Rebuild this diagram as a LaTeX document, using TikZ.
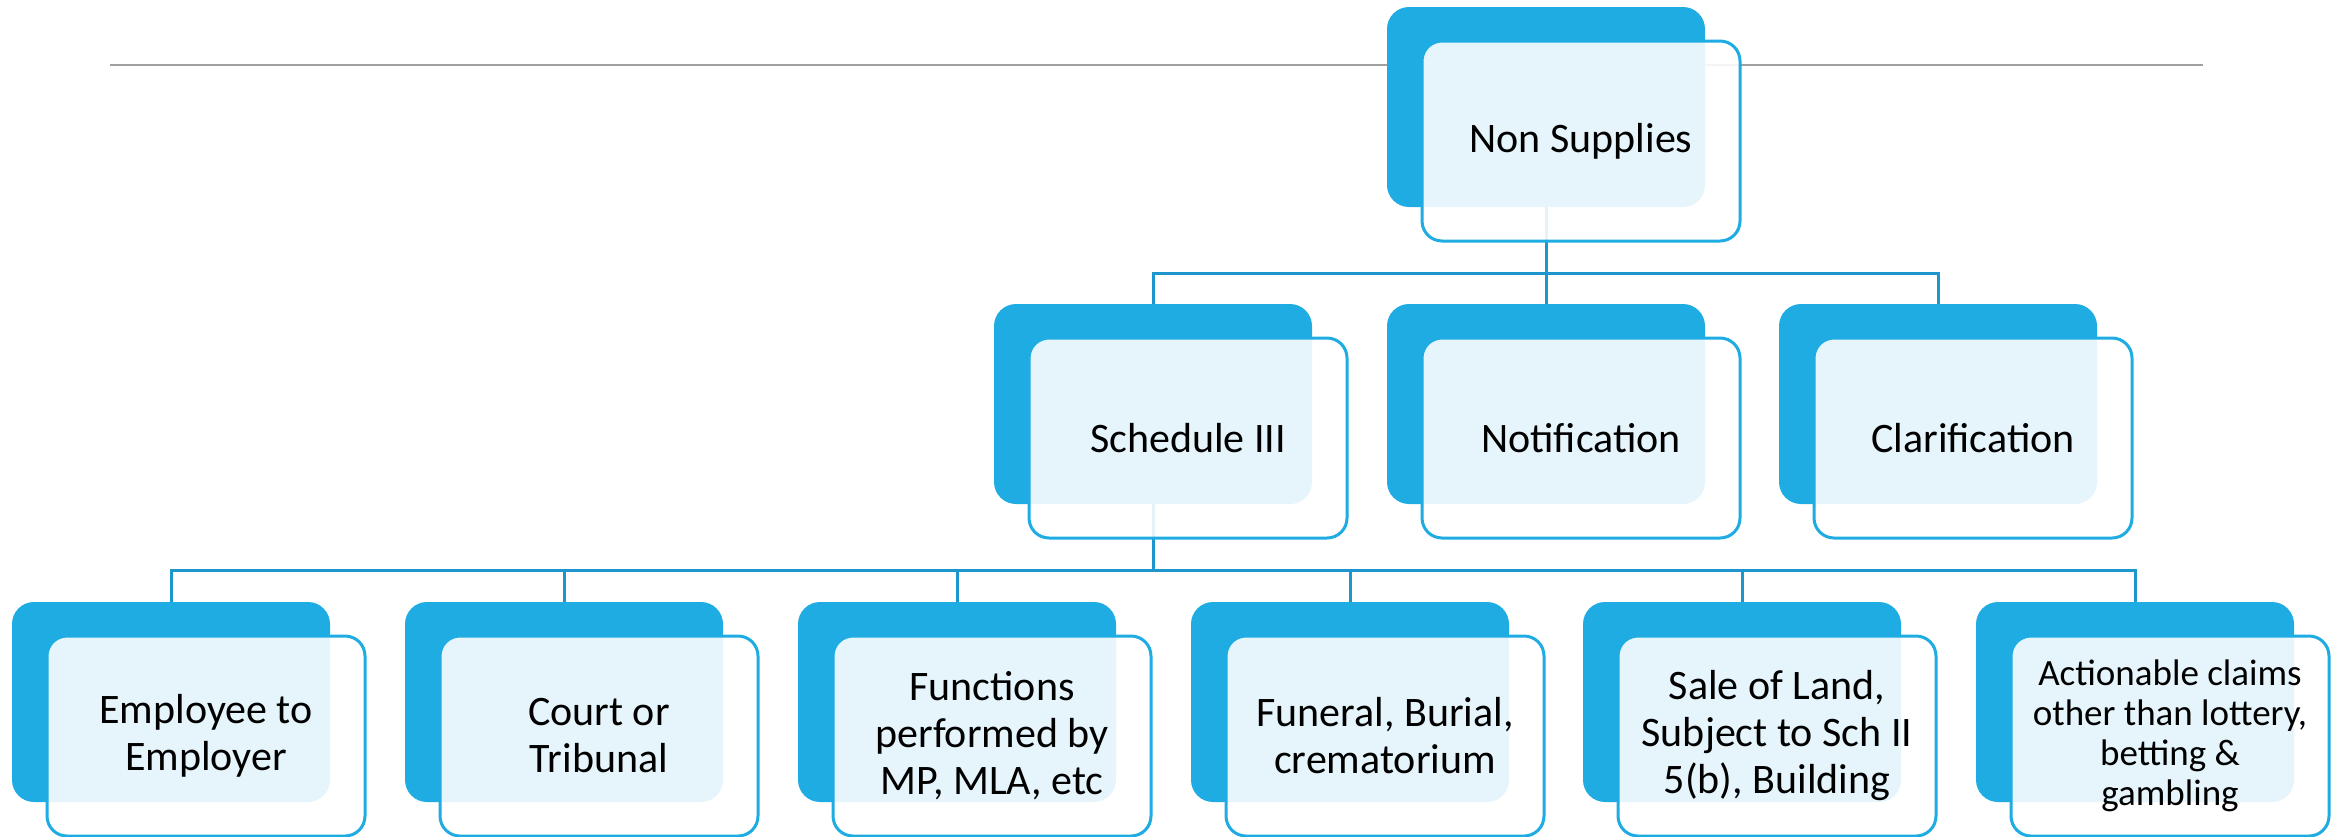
\documentclass[tikz,border=0pt]{standalone}
\usepackage{fontspec}
\setmainfont{Carlito}
\usetikzlibrary{positioning}
\definecolor{boxblue}{RGB}{30,172,226}
\definecolor{linkblue}{RGB}{29,150,206}
\definecolor{rulegray}{RGB}{160,160,160}

\begin{document}
\begin{tikzpicture}[x=1pt, y=-1pt,
		back/.style={fill=boxblue, rounded corners=22pt, minimum width=318pt, minimum height=200pt, inner sep=0pt},
		front/.style={draw=boxblue, line width=3pt, fill=white, fill opacity=0.885, text opacity=1, rounded corners=20pt,
			minimum width=318pt, minimum height=200pt, inner sep=0pt, align=center, font=\fontsize{42}{47}\selectfont},
		link/.style={draw=linkblue, line width=3pt}]
	\useasboundingbox (0,0) rectangle (2341,836);
	% rule behind the top box
	\coordinate (ruleL) at (110,65);
	\coordinate (ruleR) at (2203,65);
	\draw[rulegray, line width=2pt] (ruleL) -- (ruleR);
	% back boxes
	\node[back] (ns-bk) at (1546,107) {};
	\foreach \n/\x in {sch/1153, noti/1546, clar/1938}
		\node[back] (\n-bk) at (\x,404) {};
	\foreach \n/\x in {emp/171, court/564, func/957, fun/1350, land/1742, act/2135}
		\node[back] (\n-bk) at (\x,702) {};
	% links
	\foreach \n in {sch,noti,clar}
		\draw[link] (ns-bk.south) -- ++(0,66) -| (\n-bk.north);
	\foreach \n in {emp,court,func,fun,land,act}
		\draw[link] (sch-bk.south) -- ++(0,66) -| (\n-bk.north);
	% front boxes
	\node[front] (ns) at ([shift={(35,34)}]ns-bk.center) {Non Supplies};
	\node[front] (sch) at ([shift={(35,34)}]sch-bk.center) {Schedule III};
	\node[front] (noti) at ([shift={(35,34)}]noti-bk.center) {Notification};
	\node[front] (clar) at ([shift={(35,34)}]clar-bk.center) {Clarification};
	\node[front] (emp) at ([shift={(35,34)}]emp-bk.center) {Employee to\\Employer};
	\node[front] (court) at ([shift={(35,34)}]court-bk.center) {Court or\\Tribunal};
	\node[front] (func) at ([shift={(35,34)}]func-bk.center) {Functions\\performed by\\MP, MLA, etc};
	\node[front] (fun) at ([shift={(35,34)}]fun-bk.center) {Funeral, Burial,\\crematorium};
	\node[front] (land) at ([shift={(35,34)}]land-bk.center) {Sale of Land,\\Subject to Sch II\\5(b), Building};
	\node[front, font=\fontsize{37}{40}\selectfont] (act) at ([shift={(35,34)}]act-bk.center)
		{Actionable claims\\other than lottery,\\betting \&\\gambling};
\end{tikzpicture}
\end{document}
